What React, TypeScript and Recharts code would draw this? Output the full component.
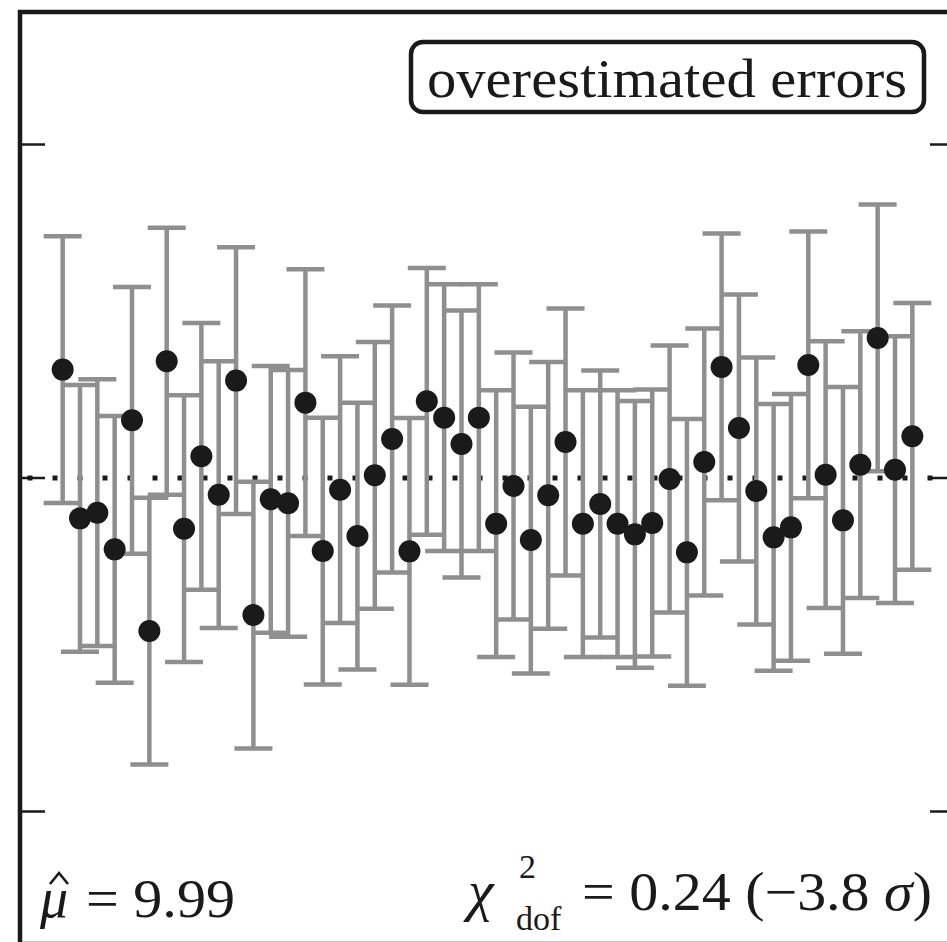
import React from 'react';
import { ScatterChart, Scatter, XAxis, YAxis, ErrorBar, ReferenceLine, ReferenceArea } from 'recharts';

const indices = [
  1, 2, 3, 4, 5, 6, 7, 8, 9, 10,
  11, 12, 13, 14, 15, 16, 17, 18, 19, 20,
  21, 22, 23, 24, 25, 26, 27, 28, 29, 30,
  31, 32, 33, 34, 35, 36, 37, 38, 39, 40,
  41, 42, 43, 44, 45, 46, 47, 48, 49, 50,
];

const values = [
  10.325, 9.879, 9.896, 9.786, 10.173, 9.541, 10.35, 9.848, 10.065, 9.95,
  10.292, 9.589, 9.936, 9.924, 10.226, 9.781, 9.965, 9.826, 10.008, 10.117,
  9.78, 10.23, 10.181, 10.102, 10.181, 9.863, 9.976, 9.814, 9.948, 10.108,
  9.863, 9.922, 9.863, 9.831, 9.865, 9.997, 9.777, 10.048, 10.333, 10.15,
  9.961, 9.822, 9.852, 10.339, 10.01, 9.873, 10.04, 10.42, 10.025, 10.125,
];

const errors = [
  0.4, 0.4, 0.4, 0.4, 0.4, 0.4, 0.4, 0.4, 0.4, 0.4,
  0.4, 0.4, 0.4, 0.4, 0.4, 0.4, 0.4, 0.4, 0.4, 0.4,
  0.4, 0.4, 0.4, 0.4, 0.4, 0.4, 0.4, 0.4, 0.4, 0.4,
  0.4, 0.4, 0.4, 0.4, 0.4, 0.4, 0.4, 0.4, 0.4, 0.4,
  0.4, 0.4, 0.4, 0.4, 0.4, 0.4, 0.4, 0.4, 0.4, 0.4,
];

const yTicks = [9, 10, 11];
const trueValue = 10;
const xDomain: [number, number] = [-1.46, 52.46];
const yDomain: [number, number] = [8.6027, 11.3973];

const labelText = 'overestimated errors';
const muHatText = '9.99';
const chi2Value = '0.24';
const sigmaValue = '−3.8';

const data = indices.map((x, i) => ({ x, y: values[i], err: errors[i] }));

const INK = '#1a1a1a';
const GREY = '#8f8f8f';
const SERIF = '"Liberation Serif", "DejaVu Serif", serif';

const Dot = (props: any) => {
  const { cx, cy } = props;
  if (cx == null || cy == null) return null;
  return <circle cx={cx} cy={cy} r={11} fill={INK} />;
};

const NoLabel = () => <g />;

export default function App() {
  return (
    <div style={{ position: 'relative', width: 947, height: 942, overflow: 'hidden', background: '#fff' }}>
      <style>{'html,body{margin:0;padding:0;overflow:hidden;background:#fff}'}</style>
      <ScatterChart width={947} height={942} margin={{ top: 12, left: 20, right: -8, bottom: -2 }}>
        <XAxis type="number" dataKey="x" domain={xDomain} allowDataOverflow hide />
        <YAxis
          yAxisId="left"
          type="number"
          dataKey="y"
          domain={yDomain}
          allowDataOverflow
          ticks={yTicks}
          interval={0}
          mirror
          width={30}
          tickSize={25}
          tick={NoLabel}
          axisLine={false}
          tickLine={{ stroke: INK, strokeWidth: 2.5 }}
        />
        <YAxis
          yAxisId="right"
          orientation="right"
          type="number"
          dataKey="y"
          domain={yDomain}
          allowDataOverflow
          ticks={yTicks}
          interval={0}
          mirror
          width={30}
          tickSize={25}
          tick={NoLabel}
          axisLine={false}
          tickLine={{ stroke: INK, strokeWidth: 2.5 }}
        />
        <ReferenceArea
          yAxisId="left"
          x1={xDomain[0]}
          x2={xDomain[1]}
          y1={yDomain[0]}
          y2={yDomain[1]}
          fill="none"
          fillOpacity={0}
          stroke={INK}
          strokeWidth={4.5}
          ifOverflow="visible"
        />
        <ReferenceLine
          yAxisId="left"
          y={trueValue}
          stroke={INK}
          strokeWidth={5}
          strokeDasharray="5 20"
          strokeDashoffset={17.5}
        />
        <Scatter yAxisId="right" data={data} dataKey="y" fill="none" shape={NoLabel} isAnimationActive={false} />
        <Scatter yAxisId="left" data={data} dataKey="y" fill={INK} shape={Dot} isAnimationActive={false}>
          <ErrorBar dataKey="err" direction="y" width={19} stroke={GREY} strokeWidth={4.5} isAnimationActive={false} />
        </Scatter>
      </ScatterChart>
      <svg width={947} height={942} style={{ position: 'absolute', left: 0, top: 0, pointerEvents: 'none' }}>
        <rect x={411} y={42} width={513} height={70} rx={12} ry={12} fill="#fff" stroke={INK} strokeWidth={4.5} />
        <text x={427} y={97} fontFamily={SERIF} fontSize={54} fill={INK} textLength={480} lengthAdjust="spacingAndGlyphs">
          {labelText}
        </text>
        <text x={40} y={917} fontFamily={SERIF} fontSize={56} fontStyle="italic" fill={INK}>μ</text>
        <path d="M50 884 L59 873 L68 884" fill="none" stroke={INK} strokeWidth={2.6} strokeLinejoin="miter" />
        <text x={86} y={917} fontFamily={SERIF} fontSize={54} fill={INK} textLength={149} lengthAdjust="spacingAndGlyphs">
          {'= ' + muHatText}
        </text>
        <text x={468} y={910} fontFamily={SERIF} fill={INK}>
          <tspan fontSize={58} fontStyle="italic">χ</tspan>
          <tspan fontSize={34} x={519} y={878}>2</tspan>
          <tspan fontSize={34} x={516} y={930}>dof</tspan>
        </text>
        <text x={582} y={910} fontFamily={SERIF} fontSize={54} fill={INK} textLength={350} lengthAdjust="spacingAndGlyphs">
          {'= ' + chi2Value + ' (' + sigmaValue + ' '}
          <tspan fontStyle="italic">σ</tspan>
          {')'}
        </text>
      </svg>
    </div>
  );
}
